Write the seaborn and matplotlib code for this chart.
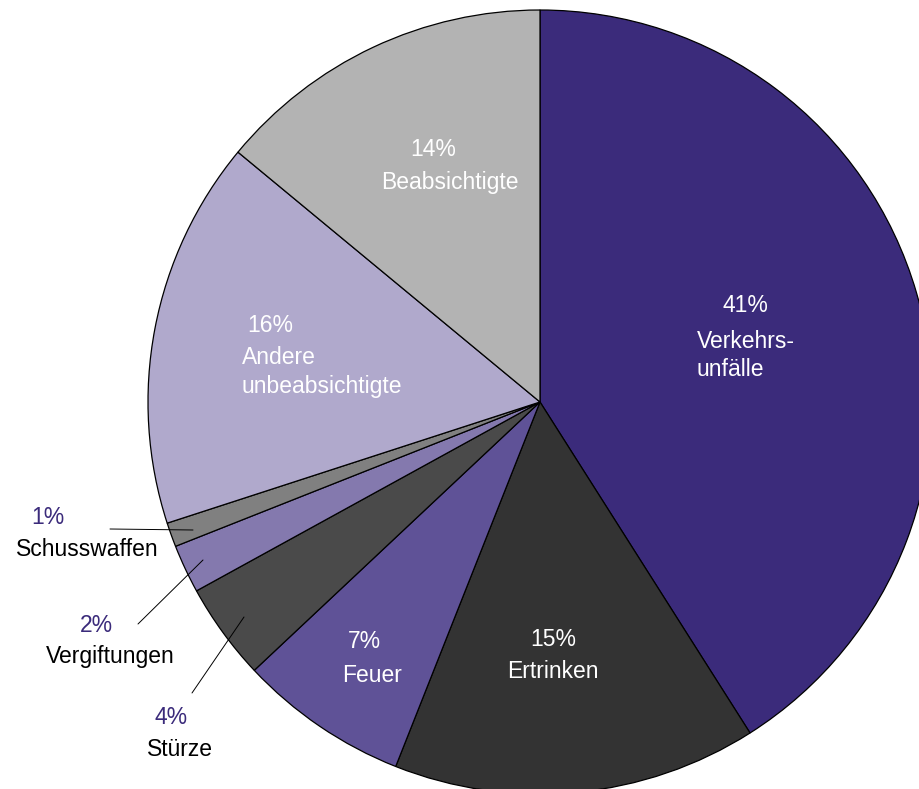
import matplotlib
matplotlib.use("Agg")
import matplotlib.pyplot as plt
import seaborn as sns

# Data
categories = ["Verkehrsunfälle", "Ertrinken", "Feuer", "Stürze", "Vergiftungen",
              "Schusswaffen", "Andere unbeabsichtigte", "Beabsichtigte"]
shares = [41, 15, 7, 4, 2, 1, 16, 14]
slice_colors = ["#3b2b7b", "#333333", "#5f5297", "#4a4a4a", "#8479ae",
                "#808080", "#b0a9cc", "#b3b3b3"]

sns.set_theme(style="white")
plt.rcParams["font.family"] = ["Liberation Sans", "DejaVu Sans"]

W, H = 920, 789
fig = plt.figure(figsize=(W / 100, H / 100), dpi=100)
ax = fig.add_axes([0, 0, 1, 1])

# pie centre at pixel (540, 402), radius ~392 px
R = 392.0
cx, cy = 540.0, 402.0
ax.pie(shares, colors=slice_colors, startangle=90, counterclock=False,
       radius=1.0, wedgeprops=dict(edgecolor="black", linewidth=0.9))
ax.set_xlim(-cx / R, (W - cx) / R)
ax.set_ylim(-(H - cy) / R, cy / R)
ax.set_aspect("auto")
ax.axis("off")


def px(x, y):
    return x / W, 1 - y / H


fs = 16.5
purple = "#3b2b7b"

# inner labels (white)
inner = [
    (745, 306, "41%"),
    (553, 640, "15%"), (553, 671, "Ertrinken"),
    (364, 642, "7%"), (372, 676, "Feuer"),
    (433, 149, "14%"), (450, 183, "Beabsichtigte"),
    (270, 325, "16%"),
]
for x, y, t in inner:
    fig.text(*px(x, y), t, color="white", fontsize=fs, ha="center", va="center")
left_inner = [
    (697, 341, "Verkehrs-"), (697, 369, "unfälle"),
    (242, 357, "Andere"), (242, 386, "unbeabsichtigte"),
]
for x, y, t in left_inner:
    fig.text(*px(x, y), t, color="white", fontsize=fs, ha="left", va="center")

# outer labels
outer = [
    (48, 518, "1%", purple), (87, 550, "Schusswaffen", "black"),
    (96, 625, "2%", purple), (110, 657, "Vergiftungen", "black"),
    (171, 718, "4%", purple), (180, 749, "Stürze", "black"),
]
for x, y, t, c in outer:
    fig.text(*px(x, y), t, color=c, fontsize=fs, ha="center", va="center")

# leader lines
leaders = [((110, 529), (193, 530)), ((138, 624), (203, 560)), ((192, 693), (244, 617))]
for (x0, y0), (x1, y1) in leaders:
    a, b = px(x0, y0)
    c, d = px(x1, y1)
    ax.plot([a, c], [b, d], color="black", linewidth=0.7, transform=fig.transFigure)

fig.savefig("out.png", dpi=100)
